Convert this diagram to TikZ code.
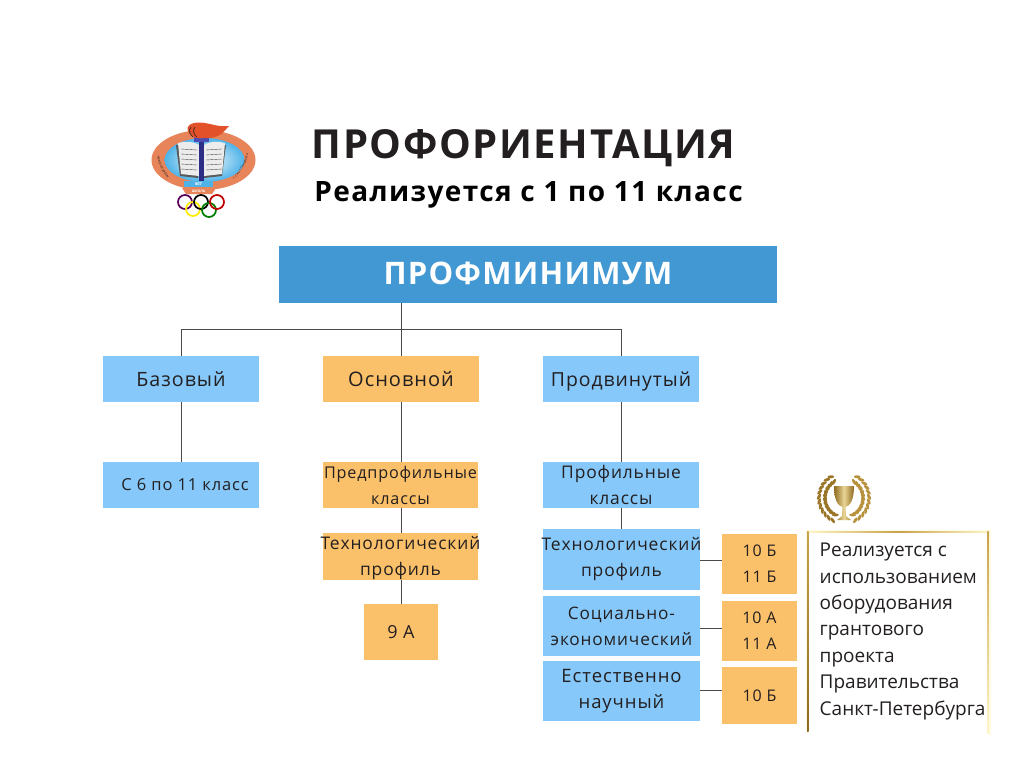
\documentclass[tikz,border=0pt]{standalone}
\usepackage{fontspec}
\setmainfont{Open Sans}
\newfontfamily\headfont[LetterSpace=4]{Open Sans}
\newfontfamily\labelfont[LetterSpace=5]{Open Sans}
\newfontfamily\sidefont{Open Sans}
\usetikzlibrary{decorations.text,shadings}
\definecolor{bandblue}{HTML}{4298D3}
\definecolor{lightblue}{HTML}{85C8F9}
\definecolor{softorange}{HTML}{FBC16A}
\definecolor{inktext}{HTML}{231F20}
\definecolor{connector}{HTML}{4A4A4A}
\definecolor{goldA}{HTML}{C9A24A}
\definecolor{goldB}{HTML}{FFF6C8}
\definecolor{goldC}{HTML}{8F6A1E}
\definecolor{logoorange}{HTML}{E8845A}
\definecolor{flamered}{HTML}{E2512A}
\definecolor{skyedge}{HTML}{4FB3E8}
\newcommand{\ctr}[1]{\makebox[0pt]{#1}}
\tikzset{
  x=1pt,y=-1pt,
  fs/.style={font=\labelfont\fontsize{#1}{26}\selectfont},
  cell/.style={inner sep=0pt,outer sep=0pt,align=center,text=inktext,fs=16},
  bluecell/.style={cell,fill=lightblue},
  orangecell/.style={cell,fill=softorange},
  link/.style={draw=connector,line width=0.9pt},
}
\begin{document}
\begin{tikzpicture}
\useasboundingbox (0,0) rectangle (1024,768);
\fill[white] (0,0) rectangle (1024,768);

% logo
\fill[logoorange] (203.5,160) ellipse [x radius=52pt,y radius=30pt];
\shade[inner color=white,outer color=skyedge] (204.5,160) ellipse [x radius=40pt,y radius=22pt];
% curved texts
\path[decorate,decoration={text along path,text align=center,text={|\sidefont\fontsize{3.4}{4}\selectfont\color{inktext}|Невский район}}]
  (156,145) .. controls (156,160) and (162,176) .. (176,186);
\path[decorate,decoration={text along path,text align=center,text={|\sidefont\fontsize{3}{4}\selectfont\color{inktext}|г. Санкт-Петербурга}}]
  (222,187) .. controls (238,180) and (251,162) .. (249,140);
% book
\fill[gray!70!black] (176,145) -- (180,176) -- (198,178) -- (198,148) -- cycle;
\fill[gray!70!black] (226,145) -- (222,176) -- (204,178) -- (204,148) -- cycle;
\fill[gray!15] (178,143) -- (181,174) -- (199,176) -- (199,145) .. controls (192,141) and (185,141) .. cycle;
\fill[gray!15] (225,143) -- (222,174) -- (204,176) -- (204,145) .. controls (211,141) and (218,141) .. cycle;
\foreach \yy in {150,155,160,165,170}{
  \draw[gray!60!black,line width=0.4pt] (181,\yy-1) -- (197,\yy);
  \draw[gray!60!black,line width=0.4pt] (222,\yy-1) -- (206,\yy);
}
% column and flame
\fill[blue!50!gray!70!black] (198.5,140) rectangle (204,183);
\fill[blue!40!gray] (194,137) rectangle (209,142);
\fill[flamered] (189,133) .. controls (184,125) and (193,121) .. (205,123)
   .. controls (212,124) and (218,127) .. (229,126)
   .. controls (224,131) and (220,139) .. (205,138)
   .. controls (198,139) and (192,138) .. cycle;
\draw[inktext,line width=0.6pt] (191,127) .. controls (188,130) and (190,135) .. (193,137);
\draw[inktext,line width=0.6pt] (195,127) .. controls (192,130) and (194,135) .. (197,137);
% ribbons
\fill[skyedge] (184,181) -- (213,181) -- (213,187) -- (184,187) -- cycle;
\fill[logoorange] (182,188) -- (216,188) -- (212,194) -- (186,194) -- cycle;
\node[inner sep=0pt,font=\sidefont\bfseries\fontsize{4}{4}\selectfont,text=white] (logonum) at (198.5,184) {607};
\node[inner sep=0pt,font=\sidefont\bfseries\fontsize{3.4}{4}\selectfont,text=white] (logoschool) at (198.5,191) {ШКОЛА};
% rings
\draw[line width=1.7pt,draw=blue!50!red!70!black] (185,202) circle [radius=7pt];
\draw[line width=1.7pt,draw=yellow!95!orange] (193,209) circle [radius=7pt];
\draw[line width=1.7pt,draw=black] (201,202) circle [radius=7pt];
\draw[line width=1.7pt,draw=green!50!black] (209,210) circle [radius=7pt];
\draw[line width=1.7pt,draw=red!75!black] (217,202) circle [radius=7pt];

% titles
\node[inner sep=0pt,text=inktext,font=\headfont\bfseries\fontsize{40}{40}\selectfont] (title) at (523.5,148) {ПРОФОРИЕНТАЦИЯ};
\node[inner sep=0pt,text=black,font=\labelfont\bfseries\fontsize{28}{28}\selectfont] (subtitle) at (528.5,195) {Реализуется с 1 по 11 класс};

% main band
\node[fill=bandblue,minimum width=498pt,minimum height=57pt,inner sep=0pt,outer sep=0pt,text=white,
      font=\headfont\bfseries\fontsize{31}{31}\selectfont] (band) at (528,274.5) {\raisebox{3pt}{ПРОФМИНИМУМ}};

% first level
\node[bluecell,fs=19.7,minimum width=156pt,minimum height=46pt] (base) at (181,379) {Базовый};
\node[orangecell,fs=20,minimum width=156pt,minimum height=46pt] (main) at (401,379) {Основной};
\node[bluecell,fs=19.4,minimum width=156pt,minimum height=46pt] (adv) at (621,379) {\ctr{\rule{0pt}{19pt}Продвинутый}};

% second level
\node[bluecell,fs=16.5,minimum width=156pt,minimum height=46pt] (grades) at (181,485) {\ctr{\hspace{8pt}С 6 по 11 класс}};
\node[orangecell,fs=16.2,minimum width=155pt,minimum height=46pt] (prepro) at (400.5,485) {\ctr{Предпрофильные}\\\ctr{классы}};
\node[bluecell,fs=17.4,minimum width=156pt,minimum height=46pt] (pro) at (621,485) {\ctr{Профильные}\\\ctr{классы}};

% third level, middle
\node[orangecell,minimum width=155pt,minimum height=47pt] (tech) at (400.5,556.5) {};
\node[cell,fs=17.4] (techlabel) at (400.5,558) {\ctr{Технологический}\\\ctr{профиль}};
\node[orangecell,fs=18,minimum width=74pt,minimum height=56pt] (ninea) at (401,632) {9 А};

% third level, right
\node[bluecell,fs=17.4,minimum width=157pt,minimum height=61pt] (techr) at (621.5,559.5) {\ctr{Технологический}\\\ctr{профиль}};
\node[bluecell,fs=17.2,minimum width=157pt,minimum height=60pt] (socec) at (621.5,626) {\ctr{Социально-}\\\ctr{экономический}};
\node[bluecell,fs=18.5,minimum width=157pt,minimum height=60pt] (natsc) at (621.5,691) {\ctr{Естественно}\\\ctr{научный}};
\node[orangecell,minimum width=75pt,minimum height=60pt] (ga) at (759.5,564) {10 Б\\11 Б};
\node[orangecell,minimum width=75pt,minimum height=60pt] (gb) at (759.5,631) {10 А\\11 А};
\node[orangecell,minimum width=75pt,minimum height=57pt] (gc) at (759.5,695.5) {10 Б};

% connectors
\coordinate (hub) at (401,329);
\draw[link] (main.north |- band.south) -- (main.north);
\draw[link] (base.north) -- (base.north |- hub) -- (adv.north |- hub) -- (adv.north);
\draw[link] (base.south) -- (grades.north);
\draw[link] (main.south) -- (main.south |- prepro.north);
\draw[link] (adv.south) -- (pro.north);
\draw[link] (main.south |- prepro.south) -- (main.south |- tech.north);
\draw[link] (main.south |- tech.south) -- (ninea.north);
\draw[link] (pro.south) -- (pro.south |- techr.north);
\draw[link] (techr.east |- 0,560) -- (ga.west |- 0,560);
\draw[link] (socec.east |- 0,628) -- (gb.west |- 0,628);
\draw[link] (natsc.east |- 0,690) -- (gc.west |- 0,690);

% trophy: laurel branches
\foreach \t in {122,133,144,155,166,177,188,199,210,221,232,243}{
  \foreach \rr/\tilt in {19/28,25/-28}{
    \pgfmathsetmacro{\px}{\rr*cos(\t)}
    \pgfmathsetmacro{\py}{498-\rr*sin(\t)}
    \pgfmathsetmacro{\ang}{\t+90+\tilt}
    \pgfmathsetmacro{\angm}{180-\ang}
    \fill[goldC!80!goldA,shift={(844+\px,\py)},rotate=\ang] (0,0) ellipse [x radius=3.4pt,y radius=1.5pt];
    \fill[goldA!70!goldC,shift={(844-\px,\py)},rotate=\angm] (0,0) ellipse [x radius=3.4pt,y radius=1.5pt];
  }
}
% trophy: cup
\shade[left color=goldC,right color=goldC,middle color=goldB!60!goldA]
   (834,486) -- (854,486) .. controls (854,500) and (850,506) .. (845.5,507) -- (846,516) -- (851,520) -- (837,520) -- (842,516) -- (842.5,507) .. controls (838,506) and (834,500) .. cycle;

% framed note
\fill[goldB!50] (805.5,529.5) rectangle (991,531);
\fill[goldB!50] (805.5,529.5) rectangle (807,731);
\fill[goldB!60] (988.5,531) rectangle (991,735);
\shade[left color=goldB,right color=goldB,middle color=goldA] (807,531) rectangle (989,532.5);
\shade[top color=goldA,bottom color=goldC] (807,531) rectangle (808.5,731);
\shade[top color=goldA,bottom color=goldB] (987,531) rectangle (988.5,733);
\node[inner sep=0pt,anchor=north west,align=left,text=inktext,font=\sidefont\fontsize{19}{26.4}\selectfont] (note) at (819.5,543)
 {Реализуется с\\использованием\\оборудования\\грантового\\проекта\\Правительства\\Санкт-Петербурга};
\end{tikzpicture}
\end{document}
